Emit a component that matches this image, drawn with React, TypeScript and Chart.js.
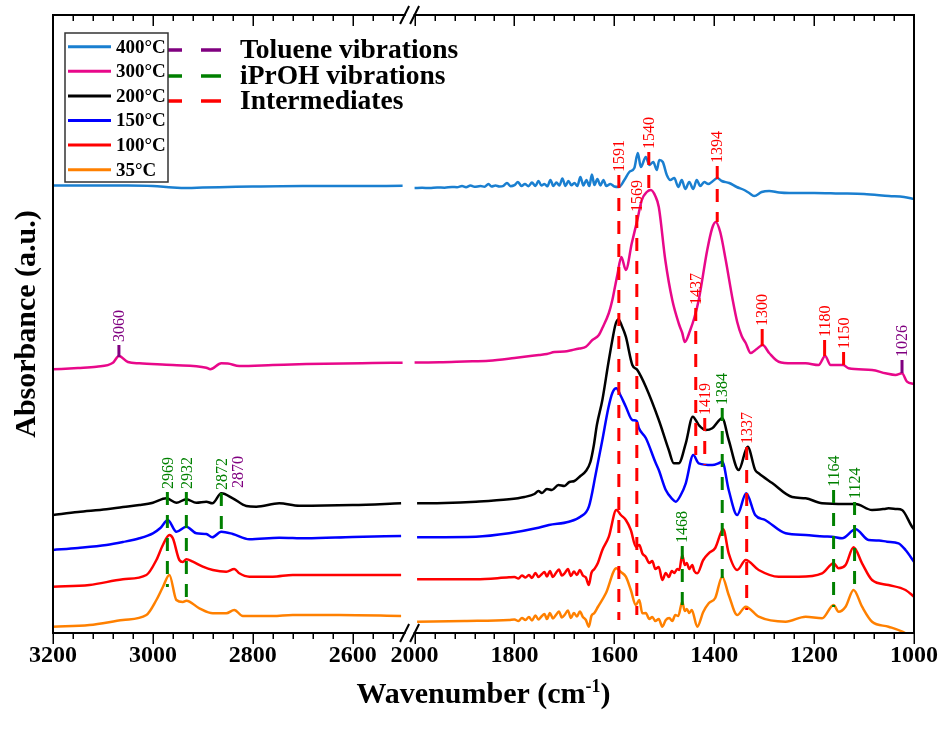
import React, { useEffect, useRef } from "react";
import { Chart, registerables } from "chart.js";

Chart.register(...registerables);

// ---------------- data ----------------
const seriesNames = ["400°C", "300°C", "200°C", "150°C", "100°C", "35°C"];
const seriesColors = ["#1a7fd0", "#e8088a", "#000000", "#0000ff", "#ff0000", "#ff8000"];

// [wavenumber (cm-1), absorbance (a.u., stacked offset)]
const s400: number[][] = [
  [3200, 4.475], [3150, 4.475], [3100, 4.475], [3050, 4.475], [3000, 4.47], [2960, 4.455], [2930, 4.45], [2900, 4.455],
  [2850, 4.46], [2800, 4.465], [2700, 4.47], [2600, 4.47], [2500, 4.472],
  [2000, 4.45], [1985, 4.452], [1970, 4.45], [1955, 4.455], [1940, 4.453], [1925, 4.46], [1915, 4.458], [1905, 4.47],
  [1897, 4.458], [1888, 4.475], [1880, 4.462], [1868, 4.47], [1860, 4.462], [1852, 4.49], [1846, 4.465], [1838, 4.475],
  [1830, 4.465], [1822, 4.472], [1815, 4.5], [1808, 4.468], [1800, 4.478], [1793, 4.51], [1786, 4.47], [1779, 4.49],
  [1772, 4.468], [1765, 4.505], [1758, 4.47], [1752, 4.52], [1746, 4.475], [1740, 4.49], [1734, 4.468], [1728, 4.53],
  [1722, 4.47], [1716, 4.505], [1710, 4.475], [1704, 4.545], [1698, 4.47], [1692, 4.52], [1686, 4.478], [1680, 4.5],
  [1674, 4.47], [1668, 4.56], [1662, 4.475], [1656, 4.53], [1650, 4.47], [1645, 4.585], [1640, 4.48], [1634, 4.54],
  [1628, 4.475], [1622, 4.53], [1616, 4.47], [1608, 4.49], [1600, 4.465], [1591, 4.46], [1580, 4.53], [1570, 4.61],
  [1560, 4.65], [1553, 4.8], [1547, 4.66], [1537, 4.76], [1530, 4.68], [1522, 4.71], [1515, 4.63], [1510, 4.73],
  [1503, 4.71], [1495, 4.58], [1488, 4.53], [1480, 4.55], [1472, 4.46], [1465, 4.53], [1458, 4.44], [1450, 4.51],
  [1442, 4.44], [1435, 4.53], [1428, 4.47], [1420, 4.51], [1412, 4.49], [1400, 4.53], [1394, 4.55], [1385, 4.52],
  [1370, 4.5], [1355, 4.46], [1340, 4.43], [1330, 4.4], [1320, 4.37], [1305, 4.41], [1290, 4.42], [1270, 4.405],
  [1250, 4.4], [1200, 4.4], [1150, 4.395], [1100, 4.39], [1050, 4.37], [1020, 4.36], [1000, 4.34],
];

const s300: number[][] = [
  [3200, 2.637], [3150, 2.65], [3113, 2.663], [3080, 2.703], [3068, 2.77], [3050, 2.71], [3027, 2.697], [2960, 2.68],
  [2893, 2.653], [2885, 2.637], [2863, 2.697], [2850, 2.695], [2827, 2.67], [2760, 2.68], [2693, 2.69], [2560, 2.7],
  [2500, 2.703],
  [2000, 2.705], [1950, 2.707], [1900, 2.715], [1851, 2.723], [1800, 2.75], [1751, 2.78], [1735, 2.79], [1720, 2.81],
  [1700, 2.815], [1684, 2.83], [1670, 2.845], [1657, 2.863], [1644, 2.93], [1631, 2.98], [1624, 3.05], [1611, 3.2],
  [1604, 3.33], [1600, 3.43], [1594, 3.58], [1586, 3.76], [1577, 3.63], [1565, 3.9], [1554, 4.13], [1545, 4.33],
  [1535, 4.41], [1527, 4.43], [1518, 4.37], [1511, 4.26], [1498, 3.73], [1484, 3.33], [1470, 3.08], [1464, 3.0],
  [1459, 2.91], [1448, 3.03], [1440, 3.15], [1431, 3.33], [1414, 3.83], [1404, 4.05], [1397, 4.11], [1388, 4.01],
  [1377, 3.73], [1363, 3.33], [1354, 3.11], [1345, 2.97], [1337, 2.9], [1327, 2.8], [1315, 2.84], [1303, 2.88],
  [1290, 2.8], [1271, 2.713], [1244, 2.697], [1217, 2.697], [1191, 2.68], [1178, 2.77], [1167, 2.68], [1142, 2.68],
  [1131, 2.647], [1084, 2.63], [1057, 2.597], [1037, 2.58], [1024, 2.597], [1014, 2.513], [1000, 2.49],
];

const s200: number[][] = [
  [3200, 1.18], [3150, 1.21], [3093, 1.237], [3060, 1.26], [3027, 1.28], [3000, 1.303], [2973, 1.347], [2953, 1.303],
  [2933, 1.337], [2913, 1.303], [2893, 1.313], [2881, 1.297], [2863, 1.397], [2840, 1.347], [2813, 1.27], [2793, 1.263],
  [2747, 1.297], [2707, 1.273], [2600, 1.28], [2503, 1.297],
  [1995, 1.297], [1940, 1.3], [1877, 1.313], [1811, 1.337], [1780, 1.36], [1760, 1.39], [1752, 1.42], [1745, 1.4],
  [1735, 1.44], [1725, 1.43], [1712, 1.48], [1700, 1.47], [1690, 1.51], [1680, 1.52], [1668, 1.57], [1657, 1.62],
  [1648, 1.71], [1641, 1.88], [1635, 2.08], [1624, 2.33], [1612, 2.7], [1604, 2.93], [1598, 3.08], [1592, 3.137],
  [1585, 3.07], [1577, 2.963], [1564, 2.68], [1554, 2.63], [1537, 2.463], [1511, 2.13], [1491, 1.83], [1481, 1.697],
  [1471, 1.697], [1457, 1.897], [1443, 2.163], [1431, 2.08], [1417, 2.03], [1404, 2.047], [1384, 2.147], [1371, 1.93],
  [1351, 1.63], [1333, 1.863], [1318, 1.63], [1311, 1.597], [1284, 1.5], [1244, 1.36], [1217, 1.347], [1184, 1.297],
  [1137, 1.29], [1117, 1.29], [1084, 1.23], [1060, 1.24], [1051, 1.247], [1035, 1.24], [1024, 1.23], [1004, 1.063],
  [1000, 1.037],
];

const s150: number[][] = [
  [3200, 0.83], [3150, 0.85], [3093, 0.88], [3060, 0.91], [3027, 0.947], [3000, 0.997], [2985, 1.05], [2970, 1.13],
  [2953, 1.013], [2933, 1.063], [2913, 0.997], [2893, 0.99], [2881, 0.957], [2863, 1.013], [2840, 0.99], [2807, 0.937],
  [2747, 0.953], [2693, 0.947], [2600, 0.96], [2503, 0.97],
  [1995, 0.957], [1877, 0.963], [1811, 0.997], [1757, 1.047], [1731, 1.08], [1691, 1.113], [1668, 1.163], [1651, 1.263],
  [1637, 1.597], [1624, 1.93], [1612, 2.25], [1604, 2.4], [1596, 2.447], [1588, 2.38], [1577, 2.263], [1564, 2.13],
  [1555, 2.12], [1551, 2.05], [1537, 1.95], [1518, 1.71], [1511, 1.63], [1497, 1.43], [1484, 1.34], [1477, 1.313],
  [1467, 1.38], [1457, 1.497], [1442, 1.78], [1431, 1.697], [1404, 1.68], [1390, 1.7], [1384, 1.713], [1371, 1.43],
  [1354, 1.18], [1336, 1.397], [1318, 1.18], [1298, 1.13], [1257, 0.997], [1217, 0.98], [1180, 0.965], [1164, 0.963],
  [1144, 0.947], [1117, 1.037], [1091, 0.93], [1070, 0.925], [1054, 0.913], [1031, 0.897], [1017, 0.83], [1000, 0.713],
];

const s100: number[][] = [
  [3200, 0.463], [3127, 0.48], [3060, 0.537], [3013, 0.58], [2993, 0.73], [2980, 0.88], [2967, 0.98], [2960, 0.947],
  [2947, 0.73], [2940, 0.71], [2933, 0.737], [2920, 0.713], [2900, 0.663], [2880, 0.63], [2853, 0.613], [2837, 0.64],
  [2827, 0.597], [2807, 0.563], [2760, 0.563], [2720, 0.58], [2600, 0.58], [2503, 0.58],
  [1995, 0.537], [1877, 0.537], [1811, 0.557], [1800, 0.56], [1792, 0.545], [1785, 0.575], [1778, 0.555], [1771, 0.58],
  [1765, 0.55], [1758, 0.6], [1752, 0.56], [1746, 0.585], [1740, 0.61], [1735, 0.565], [1729, 0.62], [1723, 0.56],
  [1717, 0.6], [1711, 0.635], [1705, 0.575], [1699, 0.6], [1693, 0.64], [1687, 0.57], [1681, 0.615], [1675, 0.58],
  [1669, 0.63], [1663, 0.575], [1657, 0.555], [1651, 0.48], [1646, 0.6], [1640, 0.64], [1633, 0.7], [1624, 0.83],
  [1611, 0.963], [1596, 1.23], [1587, 1.18], [1577, 1.13], [1567, 1.03], [1557, 0.863], [1550, 0.88], [1544, 0.797],
  [1537, 0.76], [1530, 0.7], [1524, 0.72], [1518, 0.64], [1511, 0.66], [1504, 0.53], [1497, 0.6], [1491, 0.56],
  [1485, 0.62], [1480, 0.6], [1474, 0.64], [1470, 0.63], [1464, 0.78], [1459, 0.68], [1455, 0.7], [1450, 0.64],
  [1444, 0.68], [1440, 0.62], [1434, 0.597], [1422, 0.73], [1411, 0.797], [1398, 0.85], [1382, 1.037], [1371, 0.797],
  [1354, 0.63], [1337, 0.73], [1311, 0.63], [1271, 0.563], [1231, 0.563], [1184, 0.597], [1161, 0.697], [1151, 0.647],
  [1137, 0.68], [1121, 0.857], [1104, 0.697], [1084, 0.53], [1051, 0.48], [1017, 0.43], [1000, 0.363],
];

const s35: number[][] = [
  [3200, 0.063], [3127, 0.08], [3060, 0.13], [3013, 0.18], [2993, 0.33], [2980, 0.46], [2967, 0.58], [2953, 0.33],
  [2940, 0.31], [2933, 0.323], [2907, 0.247], [2880, 0.197], [2853, 0.197], [2837, 0.23], [2820, 0.17], [2760, 0.17],
  [2720, 0.18], [2627, 0.18], [2503, 0.17],
  [1995, 0.113], [1900, 0.12], [1811, 0.13], [1800, 0.135], [1792, 0.12], [1785, 0.15], [1778, 0.13], [1771, 0.16],
  [1765, 0.125], [1758, 0.175], [1752, 0.135], [1746, 0.165], [1740, 0.19], [1735, 0.14], [1729, 0.2], [1723, 0.145],
  [1717, 0.18], [1711, 0.215], [1705, 0.155], [1699, 0.185], [1693, 0.225], [1687, 0.15], [1681, 0.2], [1675, 0.165],
  [1669, 0.215], [1663, 0.16], [1657, 0.13], [1651, 0.063], [1646, 0.17], [1640, 0.2], [1633, 0.26], [1617, 0.397],
  [1596, 0.647], [1587, 0.61], [1577, 0.563], [1567, 0.43], [1557, 0.28], [1550, 0.33], [1544, 0.197], [1537, 0.2],
  [1530, 0.14], [1524, 0.16], [1518, 0.12], [1511, 0.14], [1504, 0.063], [1497, 0.13], [1490, 0.15], [1484, 0.12],
  [1478, 0.18], [1472, 0.17], [1464, 0.313], [1459, 0.22], [1455, 0.24], [1450, 0.2], [1445, 0.23], [1434, 0.063],
  [1422, 0.21], [1411, 0.297], [1398, 0.35], [1384, 0.563], [1371, 0.38], [1354, 0.18], [1337, 0.263], [1311, 0.163],
  [1257, 0.113], [1217, 0.163], [1184, 0.147], [1161, 0.28], [1151, 0.213], [1137, 0.263], [1121, 0.43], [1104, 0.263],
  [1084, 0.113], [1051, 0.063], [1017, -0.003], [1000, -0.07],
];

const seriesData = [s400, s300, s200, s150, s100, s35];

// peak annotations
const annPos = [3068, 2971, 2933, 2863, 2830, 1591, 1555, 1531, 1394, 1437, 1419, 1384, 1335, 1304, 1179, 1141, 1024, 1464, 1161, 1119];
const annLabel = ["3060", "2969", "2932", "2872", "2870", "1591", "1569", "1540", "1394", "1437", "1419", "1384", "1337", "1300", "1180", "1150", "1026", "1468", "1164", "1124"];
const annGroup = [0, 1, 1, 1, 0, 2, 2, 2, 2, 2, 2, 1, 2, 2, 2, 2, 0, 1, 1, 1];
const annTop = [2.88, 1.41, 1.41, 1.4, 1.42, 4.58, 4.18, 4.81, 4.67, 3.25, 2.15, 2.25, 1.86, 3.04, 2.93, 2.81, 2.73, 0.87, 1.43, 1.31];
const annBottom = [2.76, 0.46, 0.32, 1.01, 1.42, 0.13, 0.18, 4.43, 4.11, 1.78, 1.68, 0.55, 0.23, 2.87, 2.77, 2.68, 2.6, 0.21, 0.26, 0.43];
const annDashed = [false, true, true, true, true, true, true, true, true, true, true, true, true, false, false, false, false, true, true, true];

const groupNames = ["Toluene vibrations", "iPrOH vibrations", "Intermediates"];
const groupColors = ["#800080", "#008000", "#ff0000"];

// broken x axis
const leftMajorTicks = [3200, 3000, 2800, 2600];
const rightMajorTicks = [2000, 1800, 1600, 1400, 1200, 1000];
const MINOR_STEP = 40;
const LEFT_RANGE = [3200, 2500];
const RIGHT_RANGE = [2000, 1000];
const BREAK_GAP = 24;
const Y_MIN = 0;
const Y_MAX = 6.18;

// --------------------------------------
const SPLIT = (LEFT_RANGE[1] + RIGHT_RANGE[0]) / 2;
const LEFT_SPAN = LEFT_RANGE[0] - LEFT_RANGE[1];
function toV(w: number) {
  return w > SPLIT ? LEFT_RANGE[0] - w : LEFT_SPAN + BREAK_GAP + (RIGHT_RANGE[0] - w);
}
function fromV(v: number) {
  return v <= LEFT_SPAN + BREAK_GAP / 2 ? LEFT_RANGE[0] - v : RIGHT_RANGE[0] - (v - LEFT_SPAN - BREAK_GAP);
}
const X_MAX = toV(RIGHT_RANGE[1]);

function buildPoints(pairs: number[][]) {
  const pts: { x: number; y: number | null }[] = [];
  pairs.forEach(([w, a], i) => {
    if (i > 0) {
      const pw = pairs[i - 1][0];
      if (pw > SPLIT && w <= SPLIT) pts.push({ x: (toV(pw) + toV(w)) / 2, y: null });
    }
    pts.push({ x: toV(w), y: a });
  });
  return pts;
}

function tickList() {
  const out: { w: number; major: boolean }[] = [];
  for (let w = LEFT_RANGE[0]; w > LEFT_RANGE[1]; w -= MINOR_STEP) out.push({ w, major: leftMajorTicks.includes(w) });
  for (let w = RIGHT_RANGE[0]; w >= RIGHT_RANGE[1]; w -= MINOR_STEP) out.push({ w, major: rightMajorTicks.includes(w) });
  return out;
}

const FONT = '"Liberation Serif", "Times New Roman", serif';

const overlayPlugin = {
  id: "overlay",
  afterDatasetsDraw(chart: any) {
    const { ctx, chartArea: ca } = chart;
    const xs = chart.scales.x;
    const ys = chart.scales.y;
    ctx.save();

    // annotations
    annPos.forEach((w, i) => {
      const color = groupColors[annGroup[i]];
      const px = xs.getPixelForValue(toV(w));
      const yt = ys.getPixelForValue(annTop[i]);
      const yb = ys.getPixelForValue(annBottom[i]);
      if (yb > yt + 0.5) {
        ctx.strokeStyle = color;
        ctx.lineWidth = 3;
        ctx.setLineDash(annDashed[i] ? [13, 10] : []);
        ctx.beginPath();
        ctx.moveTo(px, yt);
        ctx.lineTo(px, yb);
        ctx.stroke();
      }
      ctx.setLineDash([]);
      ctx.fillStyle = color;
      ctx.font = `16px ${FONT}`;
      ctx.save();
      ctx.translate(px, yt - 3);
      ctx.rotate(-Math.PI / 2);
      ctx.textAlign = "left";
      ctx.textBaseline = "middle";
      ctx.fillText(annLabel[i], 0, 1);
      ctx.restore();
    });

    // frame with break
    const xb1 = xs.getPixelForValue(toV(LEFT_RANGE[1])) + 2;
    const xb2 = xs.getPixelForValue(toV(RIGHT_RANGE[0]));
    ctx.setLineDash([]);
    ctx.strokeStyle = "#000";
    ctx.lineWidth = 2;
    ctx.lineCap = "square";
    ctx.beginPath();
    ctx.moveTo(ca.left, ca.top);
    ctx.lineTo(ca.left, ca.bottom);
    ctx.moveTo(ca.right, ca.top);
    ctx.lineTo(ca.right, ca.bottom);
    [ca.top, ca.bottom].forEach((yy: number) => {
      ctx.moveTo(ca.left, yy);
      ctx.lineTo(xb1, yy);
      ctx.moveTo(xb2, yy);
      ctx.lineTo(ca.right, yy);
    });
    ctx.stroke();
    ctx.lineCap = "butt";
    ctx.beginPath();
    [xb1, xb2].forEach((xc: number) => {
      [ca.top, ca.bottom].forEach((yy: number) => {
        ctx.moveTo(xc - 4.5, yy + 9);
        ctx.lineTo(xc + 4.5, yy - 9);
      });
    });
    ctx.stroke();

    // ticks
    ctx.lineWidth = 1.5;
    ctx.beginPath();
    tickList().forEach(({ w, major }) => {
      const px = Math.round(xs.getPixelForValue(toV(w))) + 0.25;
      const len = major ? 11 : 6;
      ctx.moveTo(px, ca.bottom);
      ctx.lineTo(px, ca.bottom + len);
      ctx.moveTo(px, ca.top);
      ctx.lineTo(px, ca.top + len);
    });
    ctx.stroke();

    // group legend (dashed samples)
    const gRows = [50, 76, 101];
    groupNames.forEach((name, i) => {
      ctx.strokeStyle = groupColors[i];
      ctx.lineWidth = 3.5;
      ctx.setLineDash([20, 19]);
      ctx.beginPath();
      ctx.moveTo(162, gRows[i]);
      ctx.lineTo(221, gRows[i]);
      ctx.stroke();
      ctx.setLineDash([]);
      ctx.fillStyle = "#000";
      ctx.font = `bold 27.5px ${FONT}`;
      ctx.textAlign = "left";
      ctx.textBaseline = "middle";
      ctx.fillText(name, 240, gRows[i] + 1);
    });

    // series legend box
    ctx.fillStyle = "#fff";
    ctx.fillRect(65, 33, 103, 149);
    ctx.strokeStyle = "#333";
    ctx.lineWidth = 1.5;
    ctx.strokeRect(65, 33, 103, 149);
    seriesNames.forEach((name, i) => {
      const yy = 46.7 + i * 24.6;
      ctx.strokeStyle = seriesColors[i];
      ctx.lineWidth = 3;
      ctx.beginPath();
      ctx.moveTo(68, yy);
      ctx.lineTo(111, yy);
      ctx.stroke();
      ctx.fillStyle = "#000";
      ctx.font = `bold 19px ${FONT}`;
      ctx.textAlign = "left";
      ctx.textBaseline = "middle";
      ctx.fillText(name, 116, yy + 1);
    });

    // axis titles
    ctx.fillStyle = "#000";
    ctx.font = `bold 30px ${FONT}`;
    ctx.save();
    ctx.translate(27, (ca.top + ca.bottom) / 2);
    ctx.rotate(-Math.PI / 2);
    ctx.textAlign = "center";
    ctx.textBaseline = "middle";
    ctx.fillText("Absorbance (a.u.)", 0, 0);
    ctx.restore();

    const main = "Wavenumber (cm";
    const sup = "-1";
    const close = ")";
    ctx.font = `bold 30px ${FONT}`;
    const w1 = ctx.measureText(main).width;
    const w3 = ctx.measureText(close).width;
    ctx.font = `bold 18px ${FONT}`;
    const w2 = ctx.measureText(sup).width;
    const total = w1 + w2 + w3;
    let tx = (ca.left + ca.right) / 2 - total / 2;
    const base = 703;
    ctx.textAlign = "left";
    ctx.textBaseline = "alphabetic";
    ctx.font = `bold 30px ${FONT}`;
    ctx.fillText(main, tx, base);
    tx += w1;
    ctx.font = `bold 18px ${FONT}`;
    ctx.fillText(sup, tx, base - 11);
    tx += w2;
    ctx.font = `bold 30px ${FONT}`;
    ctx.fillText(close, tx, base);

    ctx.restore();
  },
};

export default function App() {
  const ref = useRef<HTMLCanvasElement>(null);
  useEffect(() => {
    if (!ref.current) return;
    const chart = new Chart(ref.current, {
      type: "line",
      data: {
        datasets: seriesData.map((pairs, i) => ({
          label: seriesNames[i],
          data: buildPoints(pairs),
          borderColor: seriesColors[i],
          backgroundColor: seriesColors[i],
          borderWidth: 2.5,
          pointRadius: 0,
          cubicInterpolationMode: "monotone",
          spanGaps: false,
        })),
      },
      options: {
        animation: false,
        responsive: false,
        maintainAspectRatio: false,
        parsing: false,
        layout: { padding: { left: 0, right: 31, top: 15, bottom: 0 } },
        plugins: { legend: { display: false }, tooltip: { enabled: false } },
        scales: {
          x: {
            type: "linear",
            min: 0,
            max: X_MAX,
            afterBuildTicks: (scale: any) => {
              scale.ticks = [...leftMajorTicks, ...rightMajorTicks].map((w) => ({ value: toV(w) }));
            },
            afterFit: (scale: any) => {
              scale.height = 100;
            },
            ticks: {
              autoSkip: false,
              maxRotation: 0,
              minRotation: 0,
              padding: 8,
              color: "#000",
              font: { family: "Liberation Serif", size: 24, weight: "bold" },
              callback: (value: any) => String(Math.round(fromV(Number(value)))),
            },
            grid: { display: false, drawTicks: false },
            border: { display: false },
          },
          y: {
            type: "linear",
            min: Y_MIN,
            max: Y_MAX,
            afterFit: (scale: any) => {
              scale.width = 53;
            },
            ticks: { display: false },
            grid: { display: false, drawTicks: false },
            border: { display: false },
          },
        },
      } as any,
      plugins: [overlayPlugin],
    });
    return () => chart.destroy();
  }, []);
  return (
    <div style={{ position: "fixed", left: 0, top: 0, width: 946, height: 733, background: "#fff" }}>
      <canvas ref={ref} width={946} height={733} style={{ display: "block", width: 946, height: 733 }} />
    </div>
  );
}
